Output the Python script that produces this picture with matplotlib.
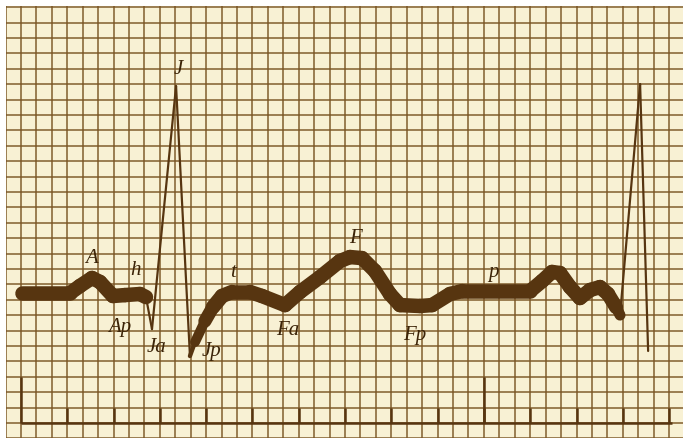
import numpy as np
import matplotlib
matplotlib.use("Agg")
import matplotlib.pyplot as plt
from matplotlib.collections import LineCollection

# trace, in grid squares (x: time, y: deflection)
t = [0.06, 3.18, 3.82, 4.60, 5.12, 5.96, 6.74, 7.71, 8.10, 8.49,
     10.05, 10.95, 11.28, 11.92, 12.44, 13.03, 13.67, 14.84, 15.62, 17.11,
     18.08, 19.38, 20.67, 21.32, 22.10, 22.94, 23.91, 24.56, 25.86, 26.64,
     27.80, 28.58, 32.99, 33.77, 34.41, 34.93, 35.58, 36.22, 36.88, 37.52,
     38.04, 38.56, 38.82, 40.12, 40.64]
v = [8.44, 8.44, 8.90, 9.42, 9.16, 8.25, 8.31, 8.38, 8.18, 6.10,
     21.88, 4.35, 5.26, 6.62, 7.53, 8.25, 8.51, 8.51, 8.25, 7.66,
     8.51, 9.48, 10.52, 10.78, 10.71, 9.87, 8.38, 7.66, 7.60, 7.66,
     8.38, 8.57, 8.57, 9.22, 9.81, 9.74, 8.83, 8.12, 8.64, 8.83,
     8.38, 7.53, 7.01, 22.01, 4.68]

labels = ["J", "A", "h", "Ap", "Ja", "Jp", "t", "Fa", "F", "Fp", "p"]
label_pos = [(10.17, 22.99), (4.60, 10.78), (7.39, 10.0), (6.42, 6.30),
             (8.81, 4.94), (12.38, 4.68), (13.74, 9.87), (17.30, 6.10),
             (21.65, 12.08), (25.53, 5.78), (30.59, 9.87)]

paper = "#f8f1d4"
grid_c = "#7a5524"
ink = "#573510"
text_c = "#3c2408"

fig = plt.figure(figsize=(6.83, 4.39), dpi=100, facecolor="white")
ax = fig.add_axes([6 / 683, 0, 677 / 683, 432 / 439])
ax.set_xlim(-0.97, 42.9)
ax.set_ylim(-0.97, 27.08)
ax.axis("off")
ax.add_patch(plt.Rectangle((-0.97, -0.97), 44, 29, color=paper, zorder=0))

# squared paper
ax.vlines(np.arange(-1, 44), -1, 28, color=grid_c, lw=1.3, alpha=0.8, zorder=1)
ax.hlines(np.arange(-1, 28), -1, 44, color=grid_c, lw=1.3, alpha=0.8, zorder=1)

# time scale at the bottom
ax.hlines(0, 0, 42.2, color=ink, lw=1.8, zorder=2)
ax.vlines([0, 30], 0, 3, color=ink, lw=1.8, zorder=2)
ax.vlines(np.arange(3, 43, 3), 0, 1, color=ink, lw=1.8, zorder=2)

# string shadow: thick where the string moves slowly, thin on the fast strokes
t = np.array(t)
v = np.array(v)
pts = np.column_stack([t, v])
segs = np.stack([pts[:-1], pts[1:]], axis=1)
slope = np.abs(np.diff(v) / np.diff(t))
width_px = np.interp(slope, [1.6, 3.0], [14.5, 2.2])
lc = LineCollection(segs, linewidths=width_px * 0.72, colors=ink,
                    capstyle="round", joinstyle="round", zorder=3)
ax.add_collection(lc)

for name, (x, y) in zip(labels, label_pos):
    ax.text(x, y, name, fontsize=15, style="italic", color=text_c,
            family=["Liberation Serif", "DejaVu Serif"],
            ha="center", va="center", zorder=4)

fig.savefig("out.png", dpi=100, facecolor="white")
